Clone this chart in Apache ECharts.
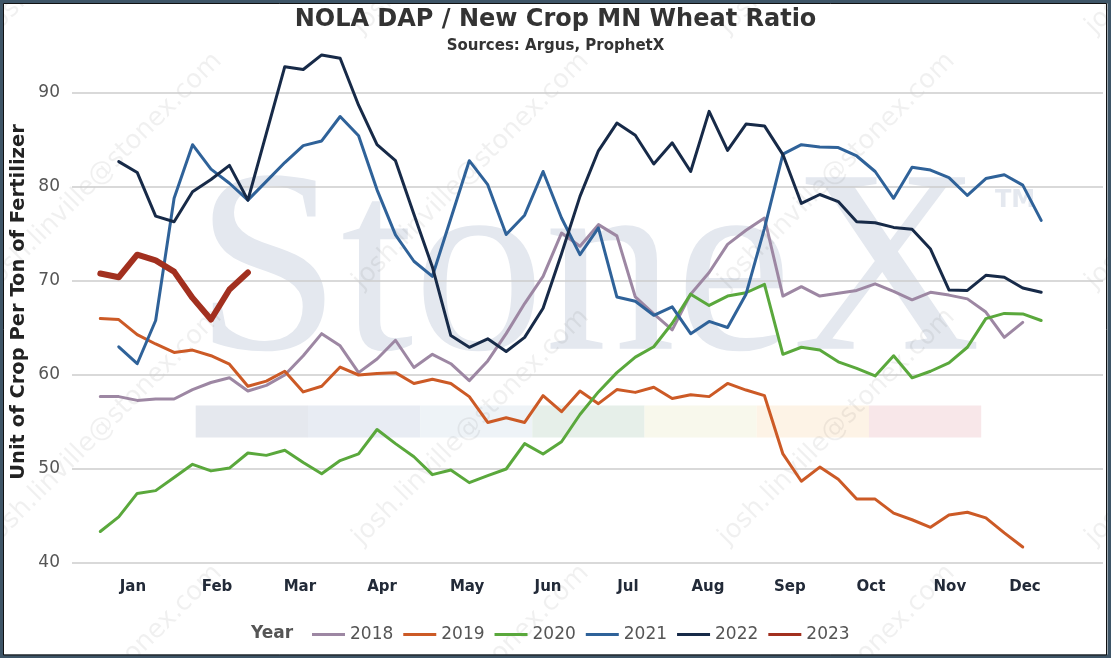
<!DOCTYPE html>
<html>
<head>
<meta charset="utf-8">
<title>NOLA DAP / New Crop MN Wheat Ratio</title>
<script src="https://cdn.jsdelivr.net/npm/echarts@6.0.0/dist/echarts.min.js"></script>
<style>
  html, body { margin: 0; padding: 0; background: #fff; }
  #chart { width: 1111px; height: 658px; }
</style>
</head>
<body>
<div id="chart"></div>
<script>
// week of the year (x) for every point
var weeks = [1, 2, 3, 4, 5, 6, 7, 8, 9, 10, 11, 12, 13, 14, 15, 16, 17, 18, 19, 20,
  21, 22, 23, 24, 25, 26, 27, 28, 29, 30, 31, 32, 33, 34, 35, 36, 37, 38, 39, 40,
  41, 42, 43, 44, 45, 46, 47, 48, 49, 50, 51, 52];

// month tick labels and where they sit on the week axis
var months = ['Jan', 'Feb', 'Mar', 'Apr', 'May', 'Jun', 'Jul', 'Aug', 'Sep', 'Oct', 'Nov', 'Dec'];
var monthWeeks = [2.77, 7.33, 11.82, 16.27, 20.88, 25.27, 29.6, 33.94, 38.38, 42.77, 47.05, 51.12];

var years = ['2018', '2019', '2020', '2021', '2022', '2023'];

var y2018 = [57.7, 57.7, 57.3, 57.45, 57.45, 58.45, 59.2, 59.7, 58.3, 58.9,
  60.0, 62.05, 64.4, 63.1, 60.25, 61.7, 63.7, 60.8, 62.2, 61.2,
  59.4, 61.5, 64.4, 67.6, 70.5, 75.1, 73.7, 76.0, 74.8, 68.3,
  66.5, 64.8, 68.6, 70.9, 73.9, 75.4, 76.7, 68.4, 69.4, 68.4,
  68.7, 69.0, 69.7, 68.9, 68.0, 68.8, 68.5, 68.1, 66.7, 64.0,
  65.6, null];

var y2019 = [66.0, 65.9, 64.3, 63.3, 62.4, 62.65, 62.05, 61.15, 58.8, 59.35,
  60.4, 58.2, 58.8, 60.85, 60.0, 60.15, 60.25, 59.1, 59.55, 59.1,
  57.7, 54.95, 55.45, 54.95, 57.8, 56.1, 58.3, 56.95, 58.45, 58.15,
  58.7, 57.5, 57.9, 57.7, 59.1, 58.4, 57.8, 51.6, 48.7, 50.2,
  48.9, 46.8, 46.8, 45.3, 44.6, 43.8, 45.1, 45.4, 44.8, 43.2,
  41.7, null];

var y2020 = [43.35, 44.9, 47.4, 47.7, 49.1, 50.5, 49.8, 50.1, 51.7, 51.45,
  52.0, 50.7, 49.5, 50.9, 51.6, 54.2, 52.7, 51.3, 49.4, 49.9,
  48.55, 49.3, 50.0, 52.7, 51.6, 52.9, 55.8, 58.2, 60.25, 61.9,
  63.0, 65.5, 68.6, 67.4, 68.4, 68.75, 69.65, 62.2, 62.95, 62.65,
  61.4, 60.7, 59.9, 62.05, 59.7, 60.4, 61.3, 62.95, 66.0, 66.55,
  66.5, 65.8];

var y2021 = [null, 63.0, 61.2, 65.8, 78.8, 84.5, 81.9, 80.4, 78.6, 80.6,
  82.6, 84.4, 84.9, 87.5, 85.45, 79.7, 74.9, 72.1, 70.5, 76.65,
  82.8, 80.25, 74.95, 77.0, 81.65, 76.7, 72.8, 75.65, 68.3, 67.85,
  66.35, 67.25, 64.4, 65.7, 65.05, 68.6, 75.6, 83.5, 84.5, 84.25,
  84.2, 83.3, 81.65, 78.8, 82.1, 81.8, 81.0, 79.1, 80.9, 81.3,
  80.2, 76.45];

var y2022 = [null, 82.7, 81.55, 76.9, 76.3, 79.5, 80.8, 82.3, 78.6, 85.7,
  92.8, 92.5, 94.05, 93.7, 88.7, 84.5, 82.8, 77.1, 71.5, 64.2,
  62.95, 63.85, 62.5, 64.0, 67.1, 72.9, 79.0, 83.85, 86.8, 85.5,
  82.45, 84.7, 81.65, 88.05, 83.9, 86.7, 86.5, 83.45, 78.25, 79.2,
  78.45, 76.3, 76.2, 75.7, 75.5, 73.4, 69.05, 69.0, 70.6, 70.4,
  69.25, 68.8];

var y2023 = [70.8, 70.4, 72.8, 72.2, 71.0, 68.2, 65.9, 69.1, 70.9];

var yearValues = [y2018, y2019, y2020, y2021, y2022, y2023];
var yearColors = ['#9d87a3', '#cc5a26', '#5aa83c', '#2f6299', '#172a48', '#a2301f'];
var yearWidths = [3, 3, 3, 3, 3, 6];

// pair each value with its week, skip the gaps
function toPairs(vals) {
  var out = [];
  for (var i = 0; i < vals.length; i++) {
    if (vals[i] != null) out.push([weeks[i], vals[i]]);
  }
  return out;
}

var series = years.map(function (y, k) {
  return {
    name: y,
    type: 'line',
    data: toPairs(yearValues[k]),
    showSymbol: false,
    symbol: 'none',
    clip: false,
    lineStyle: { color: yearColors[k], width: yearWidths[k], join: 'round', cap: 'round' },
    itemStyle: { color: yearColors[k] },
    z: 3 + k
  };
});

// watermark pieces (logo, colour strip, e-mail text)
var wm = [];
wm.push({
  type: 'text', x: 195, y: 280, z: -5, silent: true,
  style: { text: 'StoneX', fill: '#e4e8ef', font: '262px "Liberation Serif"', textAlign: 'left', textVerticalAlign: 'middle' }
});
wm.push({
  type: 'text', x: 995, y: 201, z: -5, silent: true,
  style: { text: 'TM', fill: '#e4e8ef', font: 'bold 24px "DejaVu Sans"', textAlign: 'left', textVerticalAlign: 'middle' }
});
var stripColors = ['#e5e8ee', '#e8ecf3', '#eef3f7', '#e6efe9', '#f8f8ec', '#fdf3e6', '#f8e7e9'];
stripColors.forEach(function (c, k) {
  wm.push({
    type: 'rect', z: -5, silent: true,
    shape: { x: 195.7 + k * 112.2, y: 405.5, width: 112.3, height: 32 },
    style: { fill: c }
  });
});
[-10, 357, 723, 1090].forEach(function (sx) {
  [30, 285, 541, 797].forEach(function (sy) {
    wm.push({
      type: 'text', x: sx, y: sy, rotation: Math.PI / 4, z: -4, silent: true,
      style: { text: 'josh.linville@stonex.com', fill: 'rgba(0,0,0,0.06)', font: '26px "DejaVu Sans"', textAlign: 'left', textVerticalAlign: 'middle' }
    });
  });
});

var option = {
  animation: false,
  backgroundColor: '#fff',
  title: {
    text: 'NOLA DAP / New Crop MN Wheat Ratio',
    subtext: 'Sources: Argus, ProphetX',
    left: 'center',
    top: 3,
    itemGap: 7,
    textStyle: { fontFamily: 'DejaVu Sans', fontSize: 24, fontWeight: 'bold', color: '#333' },
    subtextStyle: { fontFamily: 'DejaVu Sans', fontSize: 15, fontWeight: 'bold', color: '#333' }
  },
  legend: {
    data: years,
    left: 307,
    top: 621,
    icon: 'rect',
    itemWidth: 33,
    itemHeight: 3,
    itemGap: 10,
    textStyle: { fontFamily: 'DejaVu Sans', fontSize: 17, color: '#555' }
  },
  grid: { left: 72, right: 8, top: 93, bottom: 95 },
  xAxis: {
    type: 'value',
    min: -0.534,
    max: 55.35,
    axisLine: { show: false },
    axisTick: { show: false },
    splitLine: { show: false },
    axisLabel: {
      customValues: monthWeeks,
      formatter: function (v) {
        var k = monthWeeks.indexOf(v);
        return k >= 0 ? months[k] : '';
      },
      fontFamily: 'DejaVu Sans', fontSize: 15, fontWeight: 'bold', color: '#222a38', margin: 17
    }
  },
  yAxis: {
    type: 'value',
    min: 40,
    max: 90,
    interval: 10,
    axisLine: { show: false },
    axisTick: { show: false },
    axisLabel: { fontFamily: 'DejaVu Sans', fontSize: 17, color: '#555', margin: 12 },
    splitLine: { lineStyle: { color: '#cccccc', width: 1.5 } }
  },
  graphic: wm.concat([
    {
      type: 'text', x: 19, y: 302, rotation: Math.PI / 2, z: 10,
      style: { text: 'Unit of Crop Per Ton of Fertilizer', fill: '#222', font: 'bold 19.5px "DejaVu Sans"', textAlign: 'center', textVerticalAlign: 'middle' }
    },
    {
      type: 'text', x: 251, y: 634, z: 10,
      style: { text: 'Year', fill: '#555', font: 'bold 17px "DejaVu Sans"', textAlign: 'left', textVerticalAlign: 'middle' }
    },
    {
      type: 'rect', z: 100, silent: true,
      shape: { x: 0, y: 0, width: 1111, height: 658 },
      style: { fill: null, stroke: '#3e5567', lineWidth: 7 }
    },
    {
      type: 'rect', z: 100, silent: true,
      shape: { x: 3.5, y: 3.5, width: 1103, height: 651.5 },
      style: { fill: null, stroke: '#111', lineWidth: 1 }
    }
  ]),
  series: series
};

var myChart = echarts.init(document.getElementById('chart'));
myChart.setOption(option);
</script>
</body>
</html>
